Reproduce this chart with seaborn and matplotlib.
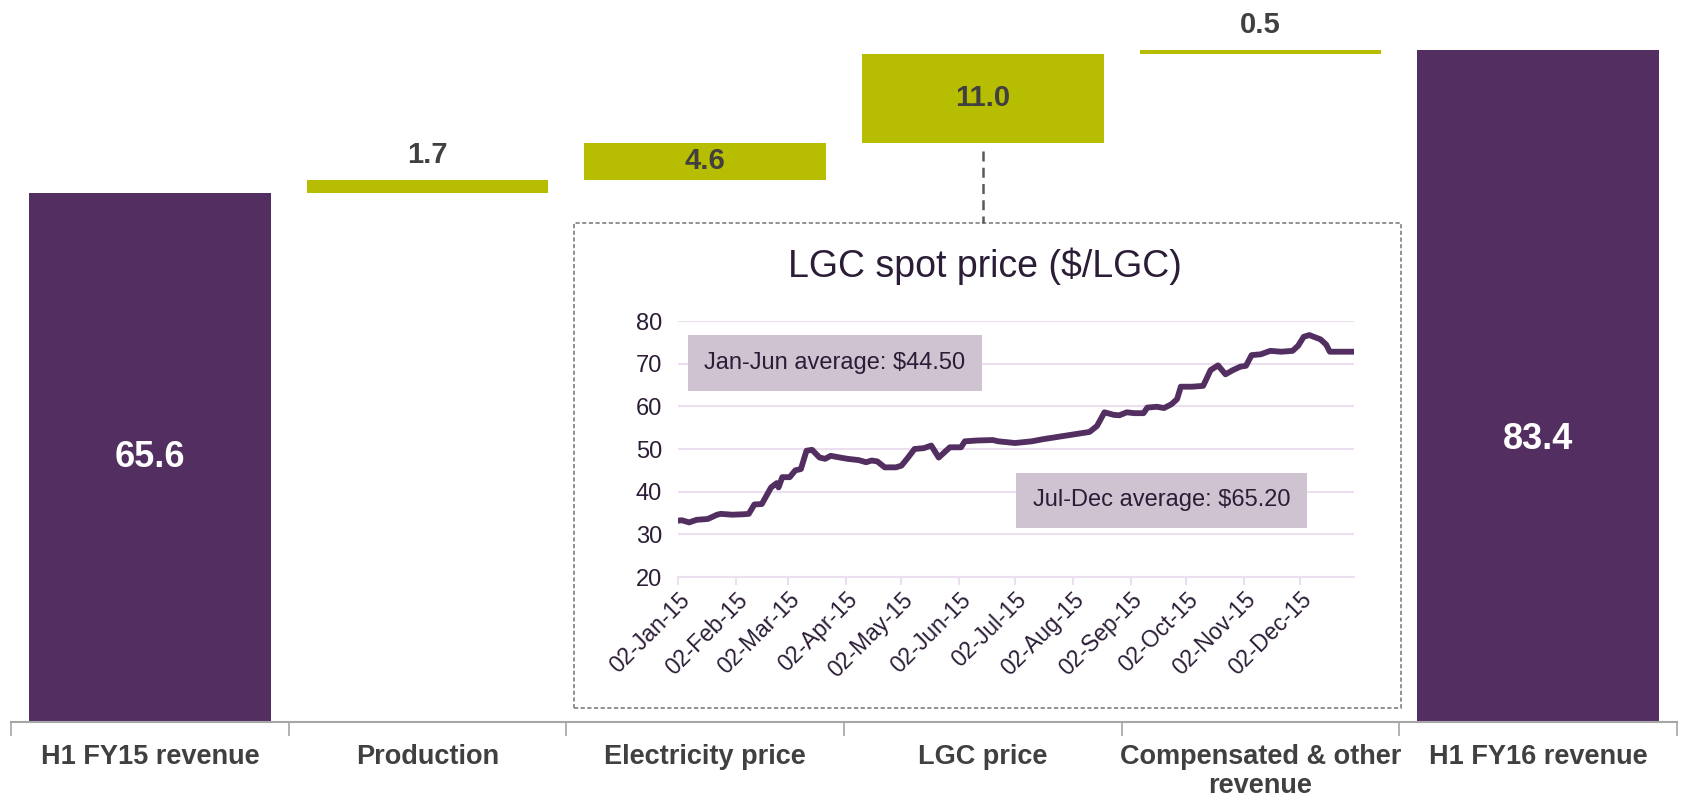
import matplotlib
matplotlib.use("Agg")
import matplotlib.pyplot as plt
import matplotlib.dates as mdates
import matplotlib.transforms as mtransforms
from matplotlib.patches import Rectangle
from matplotlib.lines import Line2D
import numpy as np
import pandas as pd
import seaborn as sns

# Waterfall data
categories = ["H1 FY15 revenue", "Production", "Electricity price", "LGC price",
              "Compensated & other\nrevenue", "H1 FY16 revenue"]
changes = [65.6, 1.7, 4.6, 11.0, 0.5, 83.4]
is_total = [True, False, False, False, False, True]

# LGC spot price (inset)
lgc_dates = ["2015-01-02", "2015-01-04", "2015-01-08", "2015-01-12", "2015-01-18", "2015-01-23",
             "2015-01-25", "2015-01-31", "2015-02-06", "2015-02-09", "2015-02-12", "2015-02-16",
             "2015-02-21", "2015-02-24", "2015-02-25", "2015-02-27", "2015-03-03", "2015-03-06",
             "2015-03-09", "2015-03-12", "2015-03-15", "2015-03-19", "2015-03-22", "2015-03-25",
             "2015-03-30", "2015-04-03", "2015-04-09", "2015-04-13", "2015-04-16", "2015-04-19",
             "2015-04-23", "2015-04-29", "2015-05-02", "2015-05-05", "2015-05-09", "2015-05-14",
             "2015-05-18", "2015-05-22", "2015-05-28", "2015-06-03", "2015-06-05", "2015-06-12",
             "2015-06-20", "2015-06-23", "2015-07-02", "2015-07-11", "2015-07-17", "2015-08-11",
             "2015-08-15", "2015-08-19", "2015-08-24", "2015-08-27", "2015-08-31", "2015-09-04",
             "2015-09-09", "2015-09-11", "2015-09-16", "2015-09-20", "2015-09-24", "2015-09-27",
             "2015-09-29", "2015-10-05", "2015-10-11", "2015-10-15", "2015-10-19", "2015-10-23",
             "2015-10-27", "2015-10-31", "2015-11-03", "2015-11-06", "2015-11-11", "2015-11-16",
             "2015-11-22", "2015-11-28", "2015-12-01", "2015-12-04", "2015-12-07", "2015-12-13",
             "2015-12-16", "2015-12-18", "2015-12-24", "2015-12-31"]
lgc_price = [33.2, 33.3, 32.8, 33.4, 33.6, 34.6,
             34.8, 34.6, 34.7, 34.8, 37.0, 37.1,
             41.0, 42.0, 41.0, 43.4, 43.4, 45.0,
             45.3, 49.6, 49.8, 48.0, 47.7, 48.4,
             48.0, 47.7, 47.4, 46.9, 47.3, 47.1,
             45.7, 45.7, 46.1, 47.7, 50.0, 50.2,
             50.8, 48.0, 50.4, 50.4, 51.8, 52.0,
             52.1, 51.8, 51.4, 51.8, 52.3, 54.0,
             55.4, 58.6, 58.0, 57.9, 58.6, 58.4,
             58.4, 59.7, 59.9, 59.6, 60.5, 61.7,
             64.6, 64.6, 64.8, 68.5, 69.6, 67.5,
             68.5, 69.3, 69.5, 72.0, 72.2, 73.0,
             72.8, 73.0, 74.2, 76.3, 76.7, 75.7,
             74.5, 72.8, 72.8, 72.8]
avg_labels = ["Jan-Jun average: $44.50", "Jul-Dec average: $65.20"]

PURPLE = "#532e60"
GREEN = "#b7bd00"
LABEL_GREY = "#404040"
AXIS_GREY = "#a6a6a6"
DARK = "#2b1d36"
GRID = "#ebdff0"
BOX = "#cfc3d1"

sns.set_style("white")
plt.rcParams["font.family"] = ["Liberation Sans", "DejaVu Sans"]

# running totals -> floating bar bases
bases = []
running = 0.0
for v, tot in zip(changes, is_total):
    if tot:
        bases.append(0.0)
        running = v
    else:
        bases.append(running)
        running += v

fig = plt.figure(figsize=(16.83, 7.96), dpi=100)
ax = fig.add_axes([11 / 1683, 74 / 796, 1666 / 1683, 722 / 796])

sns.barplot(x=categories, y=changes, bottom=bases, color=GREEN, saturation=1,
            width=0.87, errorbar=None, linewidth=0, ax=ax)
for patch, tot in zip(ax.patches, is_total):
    patch.set_facecolor(PURPLE if tot else GREEN)

ax.set_xlim(-0.5, 5.5)
ax.set_ylim(0, 89.6)
ax.set(xlabel=None, ylabel=None, yticks=[])
for side in ["top", "left", "right"]:
    ax.spines[side].set_visible(False)
ax.spines["bottom"].set_color(AXIS_GREY)
ax.spines["bottom"].set_linewidth(1.5)
ax.set_xticks(np.arange(-0.5, 6, 1), minor=True)
ax.tick_params(axis="x", which="major", bottom=False, length=0, pad=15.5, labelsize=19.5,
               labelcolor=LABEL_GREY)
ax.tick_params(axis="x", which="minor", bottom=True, length=10, width=1.2, color=AXIS_GREY)
for lbl in ax.get_xticklabels():
    lbl.set_fontweight("bold")
    lbl.set_linespacing(1.18)

# value labels
for i, (v, b, tot) in enumerate(zip(changes, bases, is_total)):
    if tot:
        frac = 0.5 if i == 0 else 0.42
        ax.text(i, v * frac, f"{v:.1f}", ha="center", va="center", color="white",
                fontsize=26, fontweight="bold")
    elif v >= 3:
        ax.text(i, b + v / 2, f"{v:.1f}", ha="center", va="center", color=LABEL_GREY,
                fontsize=21, fontweight="bold")
    else:
        ax.annotate(f"{v:.1f}", (i, b + v), xytext=(0, 18), textcoords="offset points",
                    ha="center", va="center", color=LABEL_GREY, fontsize=21, fontweight="bold")

# inset frame and connector
box_x0, box_y0, box_x1, box_y1 = 574 / 1683, 88 / 796, 1401 / 1683, 573 / 796
fig.add_artist(Rectangle((box_x0, box_y0), box_x1 - box_x0, box_y1 - box_y0,
                         transform=fig.transFigure, fill=False, edgecolor="#7f7f7f",
                         linewidth=1.2, linestyle=(0, (2.5, 1.5))))
lgc_idx = categories.index("LGC price")
bar_bottom = fig.transFigure.inverted().transform(
    ax.transData.transform((lgc_idx, bases[lgc_idx])))[1]
blend = mtransforms.blended_transform_factory(ax.transData, fig.transFigure)
fig.add_artist(Line2D([lgc_idx, lgc_idx], [bar_bottom - 0.011, box_y1], transform=blend,
                      color="#595959", linewidth=1.8, linestyle=(0, (4, 2.5))))

# inset: LGC spot price
ax_in = fig.add_axes([678 / 1683, 219 / 796, 676 / 1683, 256 / 796])
lgc = pd.DataFrame({"date": pd.to_datetime(lgc_dates), "price": lgc_price})
sns.lineplot(data=lgc, x="date", y="price", color=PURPLE, linewidth=4.2, ax=ax_in,
             solid_joinstyle="round", solid_capstyle="round")
ax_in.set_xlim(pd.Timestamp("2015-01-02"), pd.Timestamp("2015-12-31"))
ax_in.set_ylim(20, 80)
ax_in.set_yticks(range(20, 81, 10))
ax_in.set(xlabel=None, ylabel=None)
ax_in.patch.set_alpha(0)
ax_in.grid(axis="y", color=GRID, linewidth=1.5)
ax_in.set_axisbelow(True)
for side in ["top", "left", "right"]:
    ax_in.spines[side].set_visible(False)
ax_in.spines["bottom"].set_color(GRID)
ax_in.spines["bottom"].set_linewidth(1.5)
ax_in.xaxis.set_major_locator(mdates.MonthLocator(bymonthday=2))
ax_in.xaxis.set_major_formatter(mdates.DateFormatter("%d-%b-%y"))
ax_in.tick_params(axis="y", left=False, pad=8, labelsize=17, labelcolor=DARK)
ax_in.tick_params(axis="x", bottom=True, length=6, width=1.5, color=GRID, pad=2,
                  labelsize=16.5, labelcolor=DARK)
for lbl in ax_in.get_xticklabels():
    lbl.set_rotation(45)
    lbl.set_ha("right")
    lbl.set_rotation_mode("anchor")

fig.text(985 / 1683, 1 - 266 / 796, "LGC spot price ($/LGC)", ha="center", va="center",
         fontsize=27, color=DARK)
for label, (xf, yf) in zip(avg_labels, [(0.232, 0.836), (0.715, 0.30)]):
    ax_in.text(xf, yf, label, transform=ax_in.transAxes, ha="center", va="center",
               fontsize=17, color=DARK,
               bbox=dict(boxstyle="square,pad=0.7", facecolor=BOX, edgecolor="none"))

fig.savefig("out.png", dpi=100)
